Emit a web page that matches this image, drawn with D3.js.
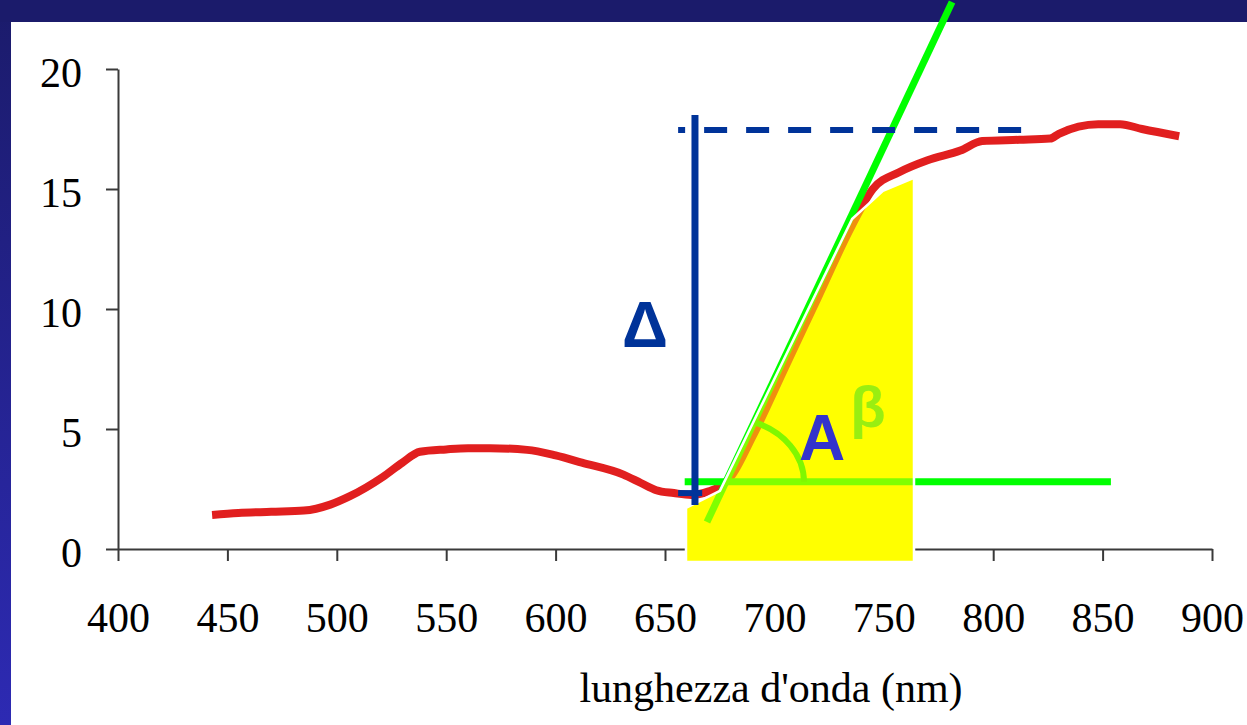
<!DOCTYPE html>
<html>
<head>
<meta charset="utf-8">
<script src="https://cdn.jsdelivr.net/npm/d3@7"></script>
<style>
  html, body { margin: 0; padding: 0; background: #ffffff; }
  svg { display: block; }
</style>
</head>
<body>
<svg id="chart" width="1247" height="725"></svg>
<script>
// ---- data ----
const wavelength = [443,455,470,485,497,506,521,530,538,550,560,570,587,600,612,631,639,646,654,662,670,675,680,690,705,720,735,745,757,770,785,795,812,826,830,848,858,868,885];
const reflectance = [1.42,1.5,1.55,1.6,1.85,2.2,3.0,3.6,4.05,4.15,4.2,4.2,4.13,3.9,3.6,3.1,2.75,2.45,2.33,2.25,2.4,2.6,3.0,4.69,7.59,10.5,13.4,15.0,15.7,16.2,16.6,17.0,17.05,17.1,17.3,17.7,17.7,17.5,17.2];
const xTicks = [400,450,500,550,600,650,700,750,800,850,900];
const yTicks = [0,5,10,15,20];
const xTitle = "lunghezza d'onda (nm)";

// annotations (data coordinates: [nm, value])
const tangentLine = [[669.2,1.125],[781.2,22.79]];
const baseLine = [[659,2.8],[853.8,2.8]];
const deltaLine = [[663.7,18.08],[663.7,1.83]];
const deltaFoot = [[656,2.33],[667,2.33]];
const deltaDash = [[656,17.46],[813.2,17.46]];
const areaPoly = [[659.6,-0.54],[659.6,1.71],[675.1,2.42],[735.5,13.75],[749.6,14.92],[763.8,15.46],[763.8,-0.54]];
const labelDelta = {t:"Δ", x:640.9, y:8.42};
const labelA = {t:"A", x:721.8, y:3.71};
const labelBeta = {t:"β", x:742.8, y:5.08};

// ---- drawing ----
const W = 1247, H = 725;
const svg = d3.select("#chart");
const defs = svg.append("defs");
const grad = defs.append("linearGradient").attr("id","leftBand")
  .attr("x1",0).attr("y1",0).attr("x2",0).attr("y2",1);
grad.append("stop").attr("offset","0%").attr("stop-color","#1b1b6b");
grad.append("stop").attr("offset","100%").attr("stop-color","#2d2ab3");

svg.append("rect").attr("x",0).attr("y",0).attr("width",W).attr("height",H).attr("fill","#ffffff");
svg.append("rect").attr("x",0).attr("y",0).attr("width",11).attr("height",H).attr("fill","url(#leftBand)");
svg.append("rect").attr("x",0).attr("y",0).attr("width",W).attr("height",22).attr("fill","#1b1b6b");

const x = d3.scaleLinear().domain([400,900]).range([118,1212]);
const y = d3.scaleLinear().domain([0,20]).range([549,69]);

const serif = "'Liberation Serif','Times New Roman',serif";
const sans = "'Liberation Sans',Arial,sans-serif";

// axes
const gx = svg.append("g").attr("transform",`translate(0,${y(0)})`)
  .call(d3.axisBottom(x).tickValues(xTicks).tickSize(12).tickSizeOuter(0).tickFormat(d3.format("d")));
const gy = svg.append("g").attr("transform",`translate(${x(400)},0)`)
  .call(d3.axisLeft(y).tickValues(yTicks).tickSize(12).tickSizeOuter(0).tickFormat(d3.format("d")));
[gx,gy].forEach(g => {
  g.select(".domain").attr("stroke","#3a3a3a").attr("stroke-width",2);
  g.selectAll(".tick line").attr("stroke","#3a3a3a").attr("stroke-width",2);
  g.selectAll(".tick text").attr("fill","#000").style("font-family",serif).style("font-size","42px");
});
gx.selectAll(".tick text").attr("y",83).attr("dy",null);
gy.selectAll(".tick text").attr("x",-36).attr("dy",null).attr("y",17);

svg.append("text").attr("x",771).attr("y",702).attr("text-anchor","middle")
  .style("font-family",serif).style("font-size","42px").attr("fill","#000").text(xTitle);

const line = d3.line().x(d => x(d[0])).y(d => y(d[1]));
const polyPath = line(areaPoly) + "Z";

// opaque yellow base
svg.append("path").attr("d",polyPath).attr("fill","#ffff00");

// red curve
const curveData = wavelength.map((w,i) => [w, reflectance[i]]);
svg.append("path").datum(curveData)
  .attr("d", d3.line().x(d => x(d[0])).y(d => y(d[1])).curve(d3.curveMonotoneX))
  .attr("fill","none").attr("stroke","#e11f1f").attr("stroke-width",8)
  .attr("stroke-linejoin","round");

// green lines
svg.append("path").attr("d",line(tangentLine)).attr("stroke","#00ff00").attr("stroke-width",7).attr("fill","none");
svg.append("path").attr("d",line(baseLine)).attr("stroke","#00ff00").attr("stroke-width",7).attr("fill","none");

// angle arc at intersection of tangent and baseline
const slope = (tangentLine[1][1]-tangentLine[0][1])/(tangentLine[1][0]-tangentLine[0][0]);
const ixNm = tangentLine[0][0] + (baseLine[0][1]-tangentLine[0][1])/slope;
const cx = x(ixNm), cy = y(baseLine[0][1]);
const pdx = x(tangentLine[1][0]) - x(tangentLine[0][0]);
const pdy = y(tangentLine[1][1]) - y(tangentLine[0][1]);
const plen = Math.hypot(pdx,pdy);
const ux = pdx/plen, uy = pdy/plen;
const rx = 78, ry = 64;
const s = 1/Math.sqrt((ux/rx)**2 + (uy/ry)**2);
svg.append("path")
  .attr("d",`M${cx+ux*s},${cy+uy*s} A${rx},${ry} 0 0 1 ${cx+rx},${cy}`)
  .attr("fill","none").attr("stroke","#00ee00").attr("stroke-width",6);

svg.append("text").attr("x",x(labelBeta.x)).attr("y",y(labelBeta.y)).attr("text-anchor","middle")
  .style("font-family",sans).style("font-weight","bold").style("font-size","58px")
  .attr("fill","#33dd22").text(labelBeta.t);

// translucent yellow overlay with white edge
svg.append("path").attr("d",polyPath).attr("fill","#ffff00").attr("fill-opacity",0.5)
  .attr("stroke","#ffffff").attr("stroke-width",2.5).attr("stroke-linejoin","round");

// blue delta markers
svg.append("path").attr("d",line(deltaDash)).attr("stroke","#003399").attr("stroke-width",6)
  .attr("stroke-dasharray","23,19").attr("stroke-dashoffset",16).attr("fill","none");
svg.append("path").attr("d",line(deltaLine)).attr("stroke","#003399").attr("stroke-width",7).attr("fill","none");
svg.append("path").attr("d",line(deltaFoot)).attr("stroke","#003399").attr("stroke-width",6).attr("fill","none");

svg.append("text").attr("x",x(labelDelta.x)).attr("y",y(labelDelta.y)).attr("text-anchor","middle")
  .style("font-family",sans).style("font-weight","bold").style("font-size","64px")
  .attr("fill","#003399").text(labelDelta.t);
svg.append("text").attr("x",x(labelA.x)).attr("y",y(labelA.y)).attr("text-anchor","middle")
  .style("font-family",sans).style("font-weight","bold").style("font-size","64px")
  .attr("fill","#3333cc").text(labelA.t);
</script>
</body>
</html>
